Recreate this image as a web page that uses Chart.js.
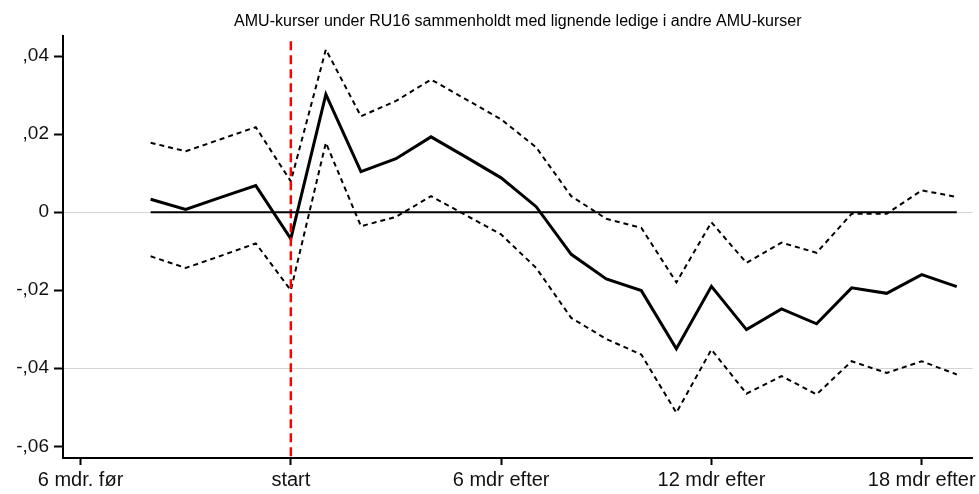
<!DOCTYPE html>
<html>
<head>
<meta charset="utf-8">
<script src="https://cdn.jsdelivr.net/npm/chart.js@4"></script>
<style>
  html, body { margin: 0; padding: 0; background: #fff; }
  #wrap { width: 979px; height: 494px; }
</style>
</head>
<body>
<div id="wrap"><canvas id="chart"></canvas></div>
<script>
// months relative to course start
const months = [-4, -3, -2, -1, 0, 1, 2, 3, 4, 5, 6, 7, 8, 9, 10, 11, 12, 13, 14, 15, 16, 17, 18, 19];
const estimate = [0.0033, 0.0007, 0.0038, 0.0068, -0.0068, 0.0302, 0.0104, 0.0137, 0.0193, 0.0141, 0.0088, 0.0014,
  -0.0108, -0.0171, -0.0201, -0.0350, -0.0190, -0.0301, -0.0248, -0.0286, -0.0194, -0.0208, -0.0160, -0.0191];
const upper = [0.0178, 0.0156, 0.0187, 0.0218, 0.0079, 0.0417, 0.0246, 0.0285, 0.0340, 0.0289, 0.0238, 0.0166,
  0.0041, -0.0017, -0.0040, -0.0180, -0.0026, -0.0130, -0.0078, -0.0104, -0.0004, -0.0004, 0.0056, 0.0039];
const lower = [-0.0113, -0.0143, -0.0112, -0.0080, -0.0200, 0.0178, -0.0036, -0.0012, 0.0041, -0.0008, -0.0057, -0.0143,
  -0.0271, -0.0325, -0.0365, -0.0514, -0.0352, -0.0465, -0.0420, -0.0467, -0.0382, -0.0412, -0.0382, -0.0416];

const xTicks = [-6, 0, 6, 12, 18];
const xTickLabels = ['6 mdr. før', 'start', '6 mdr efter', '12 mdr efter', '18 mdr efter'];
const yTicks = [-0.06, -0.04, -0.02, 0, 0.02, 0.04];
const yGridAt = [0, -0.04];
const startLine = [0.0438, -0.063];

const pts = arr => arr.map((v, i) => ({ x: months[i], y: v }));

function fmtY(v) {
  if (Math.abs(v) < 1e-9) return '0';
  const s = Math.abs(v).toFixed(2).replace(/^0/, '').replace('.', ',');
  return (v < 0 ? '-' : '') + s;
}

Chart.defaults.font.family = "'Liberation Sans', Arial, sans-serif";
Chart.defaults.color = '#111';

new Chart(document.getElementById('chart'), {
  type: 'line',
  data: {
    datasets: [
      { data: pts(months.map(() => 0)), borderColor: '#000', borderWidth: 2 },
      { data: startLine.map(y => ({ x: 0, y })), borderColor: '#ff0000', borderWidth: 2.5, borderDash: [9, 5] },
      { data: pts(upper), borderColor: '#000', borderWidth: 2, borderDash: [5, 4] },
      { data: pts(lower), borderColor: '#000', borderWidth: 2, borderDash: [5, 4] },
      { data: pts(estimate), borderColor: '#000', borderWidth: 3 }
    ]
  },
  options: {
    responsive: true,
    maintainAspectRatio: false,
    animation: false,
    elements: { point: { radius: 0 }, line: { tension: 0, borderJoinStyle: 'miter' } },
    layout: { padding: { left: 0, right: 6, top: 0, bottom: 0 } },
    plugins: {
      legend: { display: false },
      tooltip: { enabled: false },
      title: {
        display: true,
        fullSize: false,
        text: 'AMU-kurser under RU16 sammenholdt med lignende ledige i andre AMU-kurser',
        font: { size: 16, weight: 'normal' },
        color: '#000',
        padding: { top: 12, bottom: 5 }
      }
    },
    scales: {
      x: {
        type: 'linear',
        min: -6.5,
        max: 19.45,
        afterBuildTicks: s => { s.ticks = xTicks.map(v => ({ value: v })); },
        afterFit: s => { s.height = 36; },
        ticks: {
          font: { size: 20 },
          color: '#111',
          padding: 3,
          maxRotation: 0,
          callback: v => xTickLabels[xTicks.indexOf(v)]
        },
        grid: { drawOnChartArea: false, tickColor: '#000', tickLength: 7, tickWidth: 2 },
        border: { color: '#000', width: 2 }
      },
      y: {
        min: -0.063,
        max: 0.0451,
        afterBuildTicks: s => { s.ticks = yTicks.map(v => ({ value: v })); },
        afterFit: s => { s.width = 63; },
        ticks: {
          font: { size: 19 },
          color: '#111',
          padding: 5,
          callback: v => fmtY(v)
        },
        grid: {
          color: ctx => (ctx.tick && yGridAt.some(g => Math.abs(g - ctx.tick.value) < 1e-9)) ? '#d4d4d4' : 'rgba(0,0,0,0)',
          lineWidth: 1,
          tickColor: '#000',
          tickLength: 9,
          tickWidth: 2
        },
        border: { color: '#000', width: 2 }
      }
    }
  }
});
</script>
</body>
</html>
